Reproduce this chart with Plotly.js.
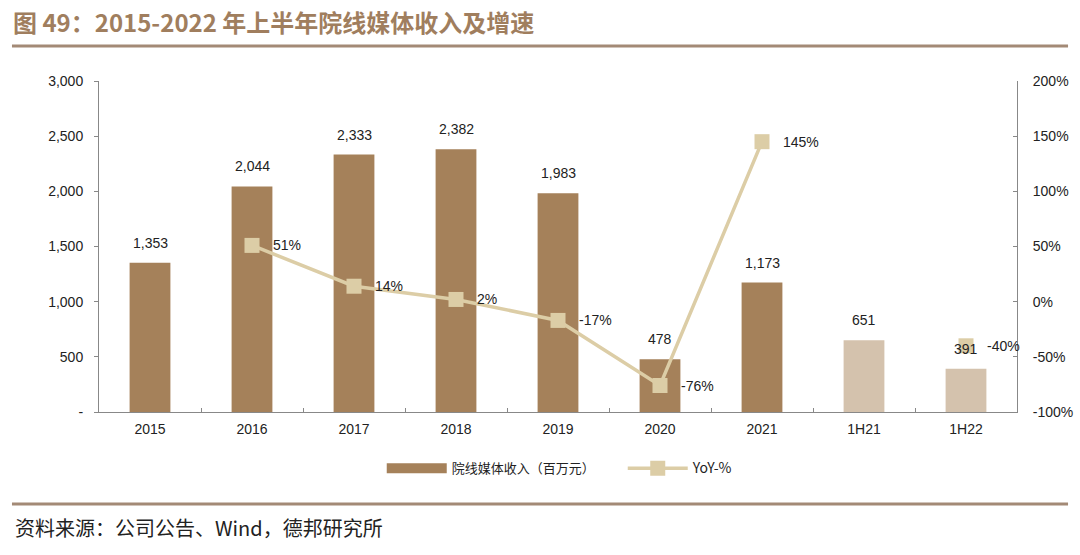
<!DOCTYPE html>
<html>
<head>
<meta charset="utf-8">
<script src="https://cdn.plot.ly/plotly-3.0.1.min.js"></script>
<style>html,body{margin:0;padding:0;background:#fff;}#chart{width:1080px;height:555px;}</style>
</head>
<body>
<div id="chart"></div>
<script>
const categories = ['2015','2016','2017','2018','2019','2020','2021','1H21','1H22'];
const revenue = [1353, 2044, 2333, 2382, 1983, 478, 1173, 651, 391];
const revenueLabels = ['1,353','2,044','2,333','2,382','1,983','478','1,173','651','391'];
const yoy = [null, 51, 14, 2, -17, -76, 145, null, -40];
const yoyLabels = ['', '51%', '14%', '2%', '-17%', '-76%', '145%', '', '-40%'];
const leftTicks = [0, 500, 1000, 1500, 2000, 2500, 3000];
const leftTickText = ['-', '500', '1,000', '1,500', '2,000', '2,500', '3,000'];
const rightTicks = [-100, -50, 0, 50, 100, 150, 200];
const rightTickText = ['-100%', '-50%', '0%', '50%', '100%', '150%', '200%'];
const titleText = '图 49：2015-2022 年上半年院线媒体收入及增速';
const sourceText = '资料来源：公司公告、Wind，德邦研究所';
const barName = '院线媒体收入（百万元）';
const lineName = 'YoY-%';

const darkBar = '#A5815A';
const lightBar = '#D4C2AD';
const lineColor = '#DCCDA6';
const textColor = '#222';
const barColors = categories.map(c => c.startsWith('1H') ? lightBar : darkBar);

const numFont = 'Arial, "Liberation Sans", sans-serif';
const cjkFont = '"Noto Sans CJK SC", "Noto Sans", sans-serif';

const traces = [
  {
    type: 'bar', x: categories, y: revenue, name: barName, showlegend: false,
    marker: {color: barColors}, width: 0.4, hoverinfo: 'x+y'
  },
  // legend-only proxy so the bar series gets a wide rectangular swatch like the reference
  {
    type: 'scatter', mode: 'lines', x: [null], y: [null],
    name: '<span style="font-size:13px">' + barName + '</span>',
    line: {color: darkBar, width: 10}, hoverinfo: 'skip'
  },
  {
    type: 'scatter', mode: 'lines+markers', x: categories, y: yoy, yaxis: 'y2',
    name: '<span style="font-size:14px">' + lineName + '</span>',
    connectgaps: false,
    line: {color: lineColor, width: 3.5},
    marker: {symbol: 'square', size: 15, color: lineColor}
  }
];

// annotation x uses the category serial index on the category axis
const annotations = [];
categories.forEach((c, i) => {
  annotations.push({
    x: i, y: revenue[i], xref: 'x', yref: 'y', text: revenueLabels[i],
    showarrow: false, xanchor: 'center', yanchor: 'middle', yshift: 20,
    font: {family: numFont, size: 14, color: textColor}
  });
  if (yoy[i] !== null) {
    annotations.push({
      x: i, y: yoy[i], xref: 'x', yref: 'y2', text: yoyLabels[i],
      showarrow: false, xanchor: 'left', yanchor: 'middle', xshift: 19,
      font: {family: numFont, size: 14, color: textColor}
    });
  }
});
annotations.push({
  text: sourceText, xref: 'paper', yref: 'paper', x: -0.094, y: -0.35,
  xanchor: 'left', yanchor: 'middle', showarrow: false,
  font: {family: cjkFont, size: 20, color: '#222'}
});

const layout = {
  width: 1080, height: 555,
  margin: {l: 99, r: 63, t: 81, b: 143},
  paper_bgcolor: '#fff', plot_bgcolor: '#fff',
  font: {family: numFont, size: 14, color: textColor},
  title: {
    text: '<b>' + titleText + '</b>',
    font: {family: cjkFont, size: 24, color: '#A07E5E'},
    x: 0.012, xanchor: 'left', xref: 'container',
    y: 0.958, yanchor: 'middle', yref: 'container'
  },
  xaxis: {
    type: 'category', range: [-0.5, categories.length - 0.5],
    showline: true, linecolor: '#888', linewidth: 1,
    ticks: 'inside', ticklen: 4, tickcolor: '#888', tickson: 'boundaries',
    showgrid: false, zeroline: false, ticklabelstandoff: 4,
    tickfont: {family: numFont, size: 14, color: textColor}
  },
  yaxis: {
    range: [0, 3000], tickvals: leftTicks, ticktext: leftTickText,
    showline: true, linecolor: '#888', linewidth: 1,
    ticks: 'outside', ticklen: 4, tickcolor: '#888', ticklabelstandoff: 8,
    showgrid: false, zeroline: false,
    tickfont: {family: numFont, size: 14, color: textColor}
  },
  yaxis2: {
    overlaying: 'y', side: 'right', range: [-100, 200],
    tickvals: rightTicks, ticktext: rightTickText,
    showline: true, linecolor: '#888', linewidth: 1,
    ticks: 'inside', ticklen: 4, tickcolor: '#888', ticklabelstandoff: 12,
    showgrid: false, zeroline: false,
    tickfont: {family: numFont, size: 14, color: textColor}
  },
  showlegend: true,
  legend: {
    orientation: 'h', x: 0.308, xanchor: 'left', y: -0.17, yanchor: 'middle',
    font: {family: cjkFont, size: 13, color: textColor},
    itemwidth: 60, traceorder: 'normal', entrywidth: 166
  },
  shapes: [
    {type: 'line', xref: 'paper', yref: 'paper', x0: -0.0948, x1: 1.0556, y0: 1.1057, y1: 1.1057,
     line: {color: '#A38A76', width: 3}},
    {type: 'line', xref: 'paper', yref: 'paper', x0: -0.0948, x1: 1.0556, y0: -0.278, y1: -0.278,
     line: {color: '#A38A76', width: 3}}
  ],
  annotations: annotations
};

Plotly.newPlot('chart', traces, layout, {displayModeBar: false, staticPlot: true});
</script>
</body>
</html>
